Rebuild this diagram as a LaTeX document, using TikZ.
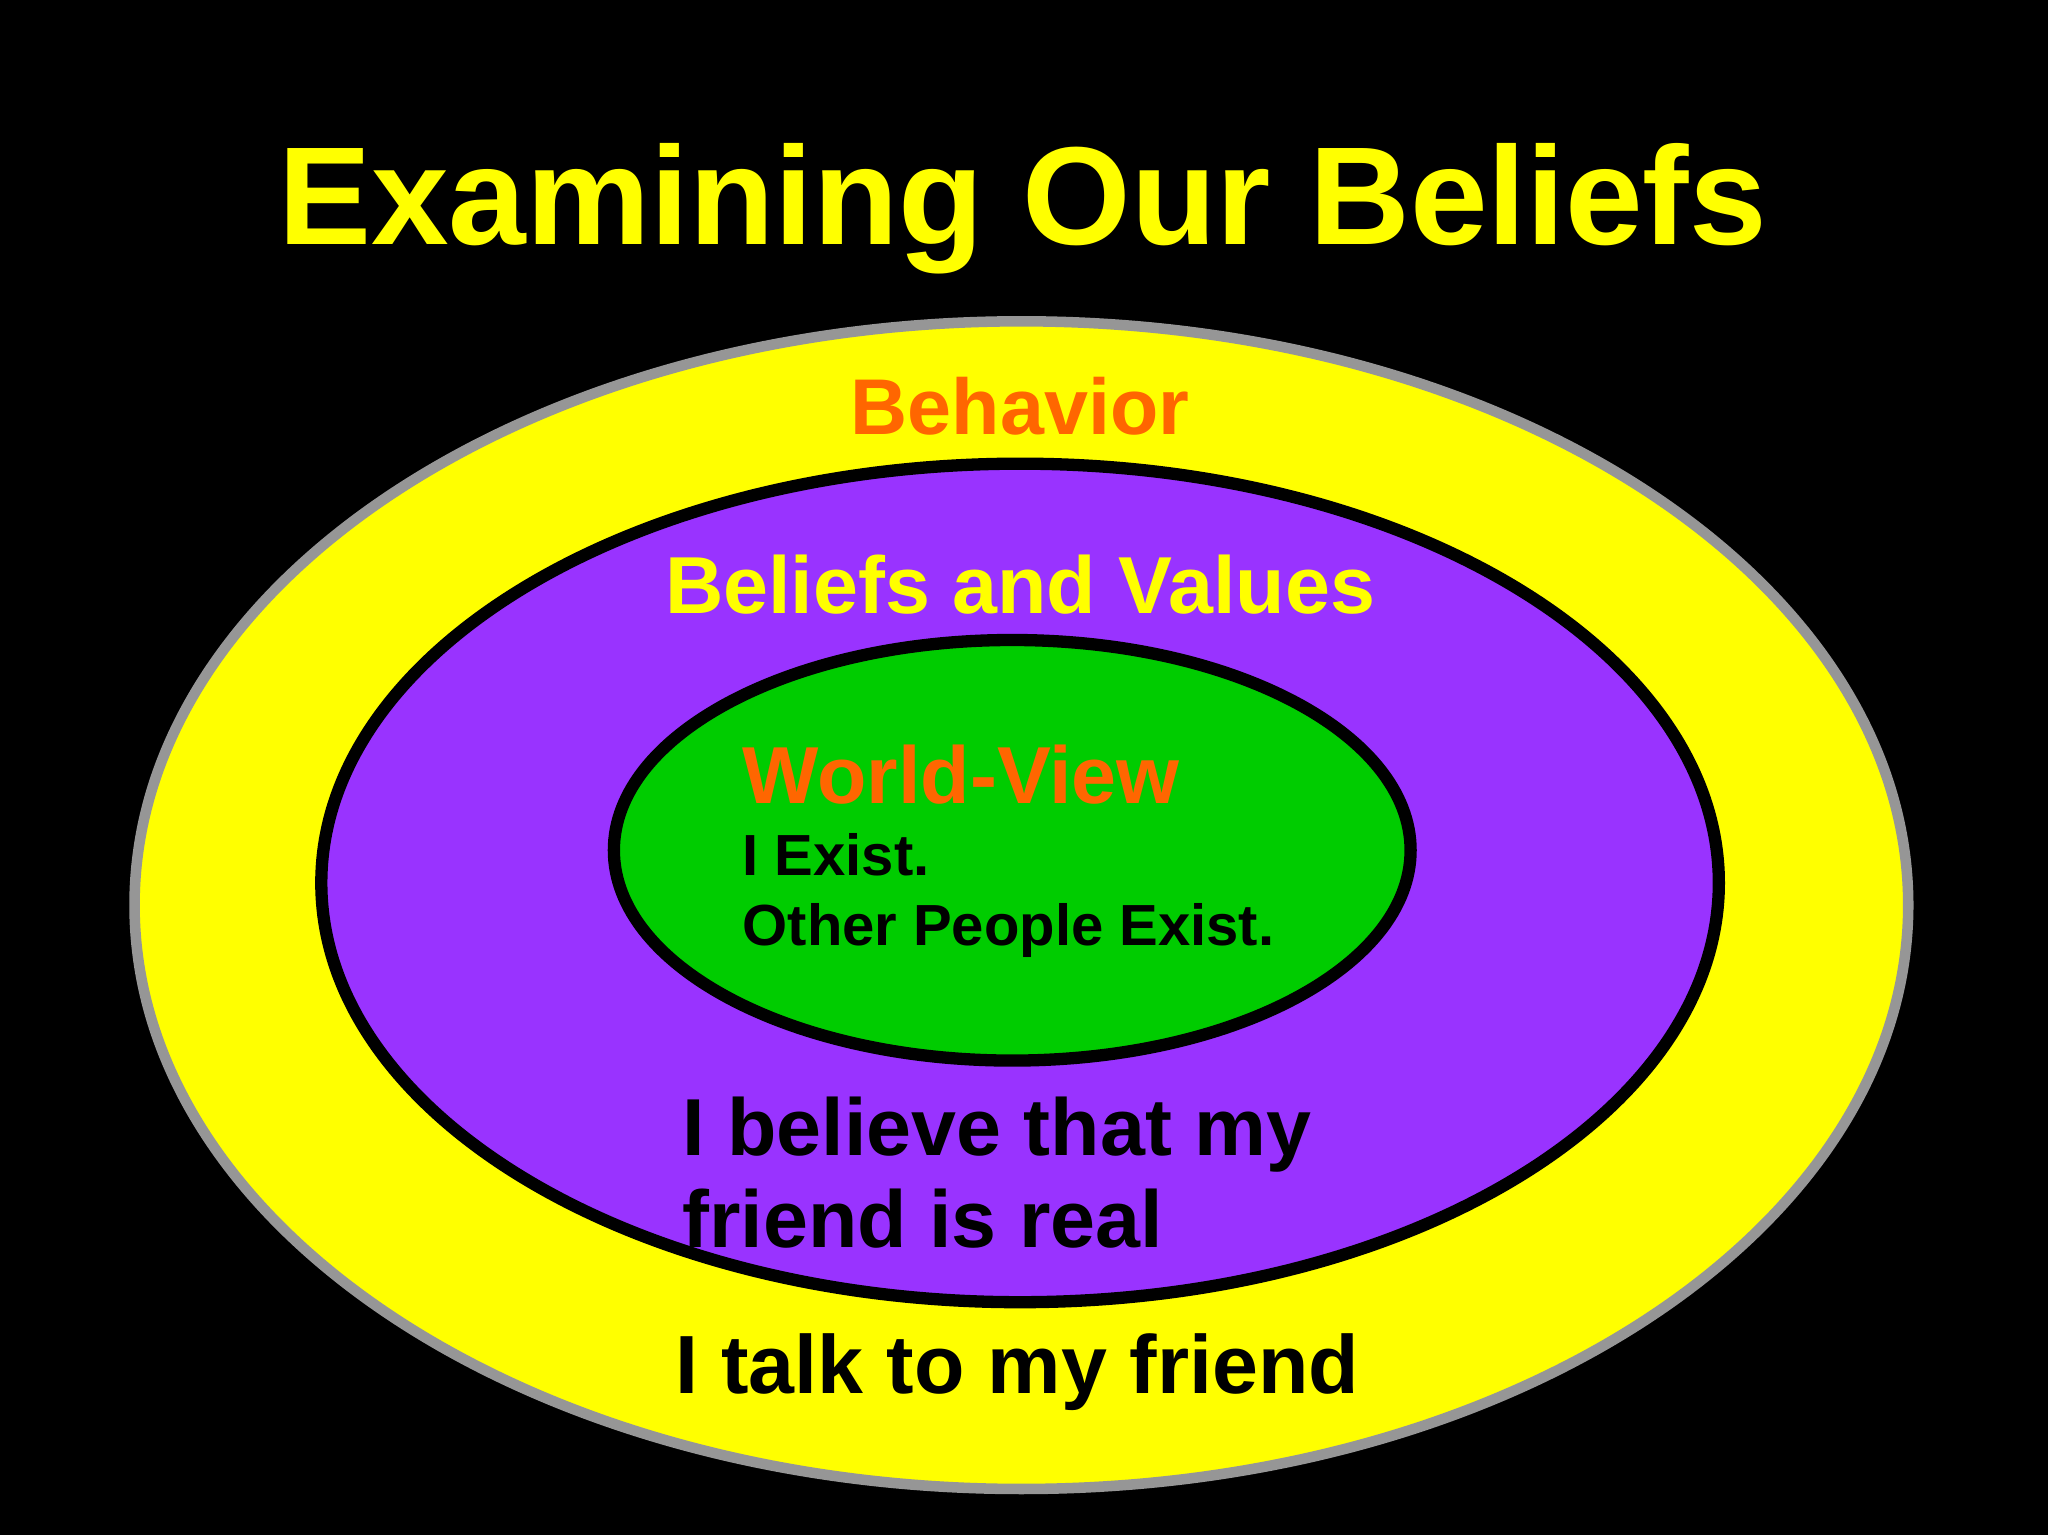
\documentclass[tikz,border=0pt]{standalone}
\usepackage{fontspec}
\setmainfont{Liberation Sans}
\definecolor{ylw}{HTML}{FFFF00}
\definecolor{pur}{HTML}{9933FF}
\definecolor{grn}{HTML}{00CC00}
\definecolor{org}{HTML}{FF6600}
\tikzset{lbl/.style={inner sep=0pt,font=\bfseries}}
\begin{document}
\begin{tikzpicture}[x=0.01306cm,y=-0.01306cm]
\fill[black] (0,0) rectangle (1568,1175);
\useasboundingbox (0,0) rectangle (1568,1175);
\fill[ylw,draw={rgb,255:red,150;green,150;blue,150},line width=3pt] (782,693) ellipse [x radius=679,y radius=447];
\fill[pur,draw=black,line width=3.5pt] (781,676) ellipse [x radius=535,y radius=321];
\fill[grn,draw=black,line width=3.5pt] (775,651) ellipse [x radius=305,y radius=161];
\node[lbl,anchor=base,text=ylw,font=\bfseries\fontsize{39.7}{44}\selectfont] (title) at (783,187) {Examining Our Beliefs};
\node[lbl,anchor=base,text=org,font=\bfseries\fontsize{22.5}{26}\selectfont] (beh) at (781,333) {Behavior};
\node[lbl,anchor=base,text=ylw,font=\bfseries\fontsize{23}{26}\selectfont] (bv) at (781,470) {Beliefs and Values};
\node[lbl,anchor=base west,text=org,font=\bfseries\fontsize{23}{26}\selectfont] (wv) at (568,615) {World-View};
\node[lbl,anchor=base west,font=\bfseries\fontsize{16.5}{20}\selectfont] (ie) at (568,670) {I Exist.};
\node[lbl,anchor=base west,font=\bfseries\fontsize{16.5}{20}\selectfont] (ope) at (568,724) {Other People Exist.};
\node[lbl,anchor=base west,font=\bfseries\fontsize{23}{26}\selectfont] (ib) at (522,885) {I believe that my};
\node[lbl,anchor=base west,font=\bfseries\fontsize{23}{26}\selectfont] (fr) at (522,955) {friend is real};
\node[lbl,anchor=base,font=\bfseries\fontsize{23.5}{26}\selectfont] (it) at (779,1067) {I talk to my friend};
\end{tikzpicture}
\end{document}
